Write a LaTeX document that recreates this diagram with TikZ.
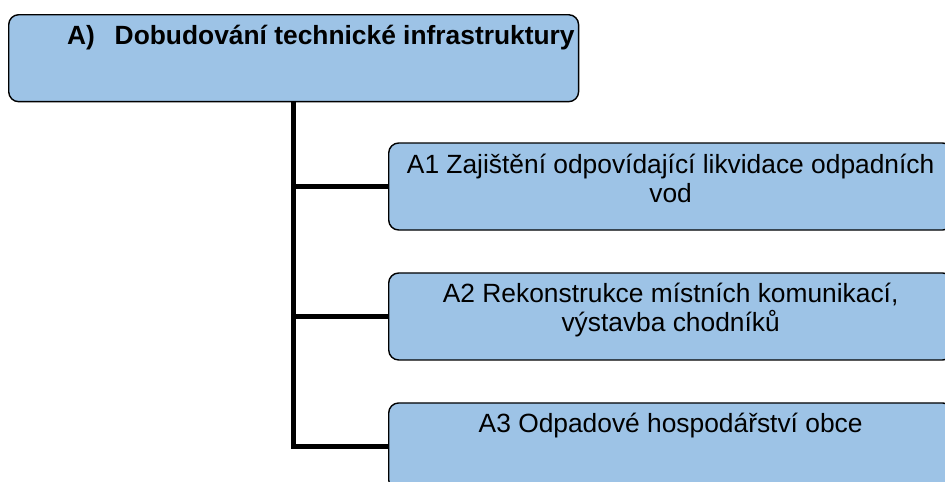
\documentclass[tikz,border=0pt]{standalone}
\usepackage{fontspec}
\setmainfont{Liberation Sans}
\usetikzlibrary{positioning}
\definecolor{boxblue}{RGB}{157,195,230}
\newcommand{\boxtext}[3]{\parbox[t][1.74cm][t]{#1}{#2\rule{0pt}{0.6cm}#3}}

\begin{document}
\begin{tikzpicture}[x=0.02cm, y=-0.02cm, node distance=2.6cm,
    main node/.style={draw=black, line width=0.8pt, rounded corners=0.2cm,
      fill=boxblue, inner sep=0pt, font=\fontsize{15}{16.5}\selectfont},
    link/.style={line width=2.8pt}]
  \useasboundingbox (0,0) rectangle (945,481);

  \node[main node, anchor=north west] (A) at (8,14)
    {\boxtext{11.4cm}{\raggedleft\bfseries}{A)\hspace{0.75em}Dobudování technické infrastruktury\hspace*{0.08cm}}};
  \node[main node, anchor=west] (A1) at (388,186.5)
    {\boxtext{11.28cm}{\centering}{A1 Zajištění odpovídající likvidace odpadních\\ vod}};
  \node[main node] (A2) [below of=A1]
    {\boxtext{11.28cm}{\centering}{A2 Rekonstrukce místních komunikací,\\ výstavba chodníků}};
  \node[main node] (A3) [below of=A2]
    {\boxtext{11.28cm}{\centering}{A3 Odpadové hospodářství obce}};

  \draw[link] (A.south) |- (A1.west);
  \draw[link] (A.south) |- (A2.west);
  \draw[link] (A.south) |- (A3.west);
\end{tikzpicture}
\end{document}
